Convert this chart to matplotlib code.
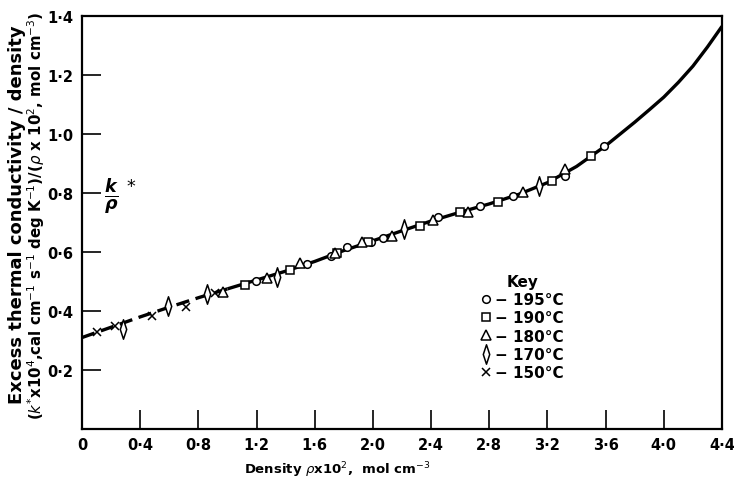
import matplotlib
matplotlib.use("Agg")
import matplotlib.pyplot as plt
from matplotlib.path import Path

# curve (density x10^2, k*/rho)
curva_x = [0.0, 0.2, 0.4, 0.6, 0.8, 1.0, 1.2, 1.4, 1.6, 1.8, 2.0, 2.2,
           2.4, 2.6, 2.8, 3.0, 3.2, 3.4, 3.6, 3.7, 3.8, 3.9, 4.0, 4.1,
           4.2, 4.3, 4.4]
curva_y = [0.310, 0.345, 0.380, 0.413, 0.445, 0.475, 0.505, 0.535, 0.568,
           0.605, 0.638, 0.672, 0.705, 0.735, 0.763, 0.795, 0.835, 0.890,
           0.960, 1.000, 1.040, 1.082, 1.125, 1.175, 1.230, 1.295, 1.365]
limite_discontinua = 1.0  # dashed up to here

# datos por temperatura
x195 = [1.196, 1.549, 1.71, 1.82, 1.99, 2.067, 2.45, 2.736, 2.96, 3.32, 3.589]
y195 = [0.503, 0.559, 0.588, 0.616, 0.635, 0.646, 0.717, 0.757, 0.791, 0.859, 0.960]
x190 = [1.121, 1.43, 1.75, 1.969, 2.324, 2.599, 2.862, 3.229, 3.497]
y190 = [0.488, 0.540, 0.598, 0.635, 0.689, 0.734, 0.771, 0.842, 0.926]
x180 = [0.972, 1.27, 1.499, 1.739, 1.923, 2.129, 2.411, 2.656, 3.034, 3.32]
y180 = [0.465, 0.511, 0.563, 0.597, 0.635, 0.655, 0.709, 0.734, 0.804, 0.881]
x170 = [0.284, 0.593, 0.857, 1.343, 2.216, 3.144]
y170 = [0.339, 0.418, 0.458, 0.514, 0.678, 0.825]
x150 = [0.10, 0.227, 0.479, 0.715, 0.914]
y150 = [0.329, 0.350, 0.384, 0.412, 0.461]

xticks = [0, 0.4, 0.8, 1.2, 1.6, 2.0, 2.4, 2.8, 3.2, 3.6, 4.0, 4.4]
yticks = [0.2, 0.4, 0.6, 0.8, 1.0, 1.2, 1.4]

plt.rcParams['font.family'] = 'DejaVu Sans'
plt.rcParams['mathtext.fontset'] = 'dejavusans'

fig = plt.figure(figsize=(7.34, 4.81), dpi=100)
ax = fig.add_axes([82/734, 51/481, 640/734, 413/481])

# curve: dashed part then solid part
xd = [v for v in curva_x if v <= limite_discontinua]
yd = curva_y[:len(xd)]
ax.plot(xd, yd, color='black', lw=2.4, dashes=(4, 2.0), zorder=2)
ax.plot(curva_x[len(xd)-1:], curva_y[len(xd)-1:], color='black', lw=2.4,
        solid_capstyle='butt', solid_joinstyle='round', zorder=2)

rombo = Path([(0, 1), (0.33, 0), (0, -1), (-0.33, 0), (0, 1)],
             [Path.MOVETO, Path.LINETO, Path.LINETO, Path.LINETO, Path.CLOSEPOLY])

kw = dict(linestyle='none', mfc='white', mec='black', mew=1.1, zorder=3)
ax.plot(x195, y195, marker='o', ms=5.5, label='\u2212 195\u00b0C', **kw)
ax.plot(x190, y190, marker='s', ms=6, label='\u2212 190\u00b0C', **kw)
ax.plot(x180, y180, marker='^', ms=7, label='\u2212 180\u00b0C', **kw)
ax.plot(x170, y170, marker=rombo, ms=14, label='\u2212 170\u00b0C', **kw)
ax.plot(x150, y150, marker='x', ms=6, linestyle='none', color='black',
        mew=1.1, zorder=3, label='\u2212 150\u00b0C')

ax.set_xlim(0, 4.4)
ax.set_ylim(0, 1.4)
ax.set_xticks(xticks)
ax.set_xticklabels([f'{v:.1f}'.replace('.', '\u00b7') if v else '0' for v in xticks])
ax.set_yticks(yticks)
ax.set_yticklabels([f'{v:.1f}'.replace('.', '\u00b7') for v in yticks])
ax.tick_params(direction='in', length=14, width=1.2, labelsize=10.5, pad=6)
for lab in ax.get_xticklabels() + ax.get_yticklabels():
    lab.set_fontweight('bold')
for s in ax.spines.values():
    s.set_linewidth(1.6)

leg = ax.legend(title='Key', frameon=False, loc='upper left',
                bbox_to_anchor=(0.612, 0.395), handlelength=0.6,
                handletextpad=0.3, labelspacing=0.22, borderpad=0,
                prop={'size': 11, 'weight': 'bold'})
leg.get_title().set_fontweight('bold')
leg.get_title().set_fontsize(11)

ax.text(0.26, 0.79, r'$\frac{\boldsymbol{k}}{\boldsymbol{\rho}}^{\,*}$', fontsize=18,
        ha='center', va='center')

fig.text(17/734, 1 - 215/481, 'Excess thermal conductivity / density',
         rotation=90, ha='center', va='center', fontsize=13, fontweight='bold')
fig.text(36/734, 1 - 216/481,
         r'($\mathit{k}^{*}$x10$^{4}$,cal cm$^{-1}$ s$^{-1}$ deg K$^{-1}$)/($\rho$ x 10$^{2}$, mol cm$^{-3}$)',
         rotation=90, ha='center', va='center', fontsize=10.8, fontweight='bold')
fig.text(337/734, 1 - 470/481, r'Density $\rho$x10$^{2}$,  mol cm$^{-3}$',
         ha='center', va='center', fontsize=9.5, fontweight='bold')

fig.savefig('out.png', dpi=100)
